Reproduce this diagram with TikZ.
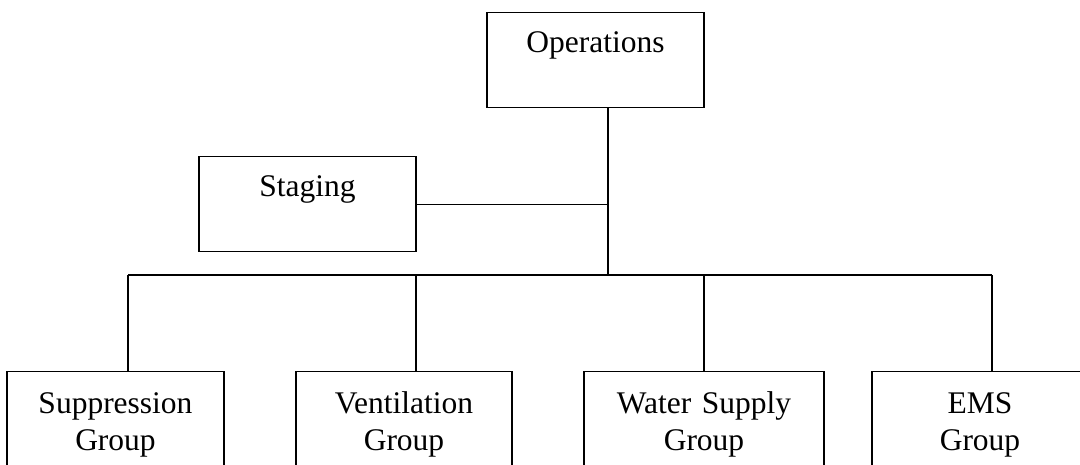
\documentclass[tikz,border=0pt]{standalone}
\usepackage{fontspec}
\setmainfont{Liberation Serif}
\usepackage{tikz}
\usetikzlibrary{positioning,calc}

\begin{document}
\begin{tikzpicture}[x=1pt,y=-1pt,
  unit/.style={draw=black,line width=1.3pt,rectangle,inner sep=0pt,
               font=\fontsize{31.5}{36.5}\selectfont,
               text width=#1,align=center,
               text height=40pt,text depth=55pt},
  unit/.default=217pt,
  group/.style={unit=#1,text height=42pt,text depth=120pt},
  group/.default=217pt,
  link/.style={line width=1.3pt,black}]
  \useasboundingbox (0,0) rectangle (1080,464);
  \node[unit,anchor=north](ops) at (595.5,12) {Operations};
  \node[unit,anchor=north](stg) at (307.5,156) {Staging};
  \node[group,anchor=north](sup) at (115.5,371) {Suppression\\Group};
  \node[group=216pt,anchor=north](ven) at (404,371) {Ventilation\\Group};
  \node[group=240pt,anchor=north](wat) at (704,371) {Water Supply\\Group};
  \node[group=216pt,anchor=north](ems) at (980,371) {EMS\\Group};
  % branch points on the bar
  \coordinate (hub) at (608,275);
  \coordinate (b1) at (128,275);
  \coordinate (b2) at (416,275);
  \coordinate (b3) at (704,275);
  \coordinate (b4) at (992,275);
  \draw[link](ops.south -| hub)--(hub);
  \draw[link](stg.east)--(stg.east -| hub);
  \draw[link](b1)--(b4);
  \draw[link](b1)--(b1 |- sup.north);
  \draw[link](b2)--(b2 |- ven.north);
  \draw[link](b3)--(b3 |- wat.north);
  \draw[link](b4)--(b4 |- ems.north);
\end{tikzpicture}
\end{document}
